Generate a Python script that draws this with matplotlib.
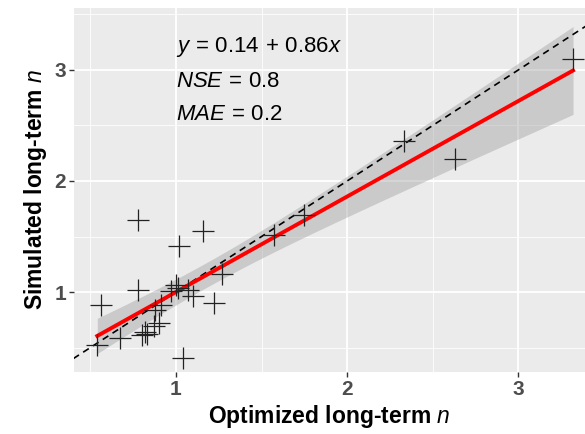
import numpy as np
import matplotlib
matplotlib.use("Agg")
import matplotlib.pyplot as plt

# optimized (x) vs simulated (y) long-term n
opt_n = [3.32, 2.33, 2.63, 1.75, 1.57, 1.27, 1.16, 1.02, 0.78, 0.78,
         0.56, 0.54, 0.67, 0.80, 0.82, 0.83, 0.87, 0.90, 0.88, 0.91,
         1.00, 1.01, 1.07, 1.10, 1.22, 1.04, 0.97]
sim_n = [3.10, 2.36, 2.20, 1.69, 1.51, 1.16, 1.55, 1.41, 1.65, 1.02,
         0.88, 0.52, 0.59, 0.61, 0.64, 0.62, 0.69, 0.72, 0.84, 0.88,
         1.06, 1.04, 1.02, 0.96, 0.90, 0.41, 1.01]
fit_a, fit_b = 0.14, 0.86
nse, mae = 0.8, 0.2

plt.rcParams['font.family'] = ['Liberation Sans', 'DejaVu Sans']
plt.rcParams['mathtext.fontset'] = 'custom'
plt.rcParams['mathtext.rm'] = 'Liberation Sans'
plt.rcParams['mathtext.it'] = 'Liberation Sans:italic'
plt.rcParams['mathtext.bf'] = 'Liberation Sans:bold'

x = np.array(opt_n)
y = np.array(sim_n)

fig = plt.figure(figsize=(5.85, 4.34), dpi=100)
ax = fig.add_axes([0.1265, 0.143, 0.8735, 0.839])
ax.set_facecolor('#EBEBEB')
for s in ax.spines.values():
    s.set_visible(False)

ax.set_xlim(0.404, 3.39)
ax.set_ylim(0.28, 3.56)
ax.set_xticks([1, 2, 3])
ax.set_yticks([1, 2, 3])
ax.set_xticks([0.5, 1.5, 2.5], minor=True)
ax.set_yticks([0.5, 1.5, 2.5, 3.5], minor=True)
ax.grid(which='major', color='white', lw=1.3)
ax.grid(which='minor', color='white', lw=0.6)
ax.set_axisbelow(True)
ax.tick_params(which='major', length=3.5, width=1, color='#333333',
               labelsize=15, labelcolor='#4D4D4D', pad=2)
ax.tick_params(which='minor', length=0)
for lab in ax.get_xticklabels() + ax.get_yticklabels():
    lab.set_fontweight('bold')

# 1:1 line
ax.plot([0, 4], [0, 4], ls=(0, (4, 3)), color='black', lw=1.2, zorder=3)

# regression line and confidence band
n = len(x)
xs = np.linspace(x.min(), x.max(), 100)
ys = fit_a + fit_b * xs
resid = y - (fit_a + fit_b * x)
s = np.sqrt(np.sum(resid ** 2) / (n - 2))
sxx = np.sum((x - x.mean()) ** 2)
se = s * np.sqrt(1 / n + (xs - x.mean()) ** 2 / sxx)
ax.fill_between(xs, ys - 2.06 * se, ys + 2.06 * se, color='#999999',
                alpha=0.4, lw=0, zorder=2)
ax.plot(xs, ys, color='red', lw=2.8, zorder=4)

ax.plot(x, y, ls='none', marker='+', ms=16, mew=0.9, color='#222222',
        zorder=5)

ax.text(1.0, 3.21, r'$y\,=\,%.2f\,+\,%.2fx$' % (fit_a, fit_b), fontsize=16,
        va='center', ha='left')
ax.text(1.0, 2.90, r'$NSE\,=\,%.1f$' % nse, fontsize=16, va='center',
        ha='left')
ax.text(1.0, 2.60, r'$MAE\,=\,%.1f$' % mae, fontsize=16, va='center',
        ha='left')

ax.set_xlabel(r'Optimized long-term $\mathit{n}$', fontsize=16.5,
              fontweight='bold', labelpad=3)
ax.set_ylabel(r'Simulated long-term $\mathit{n}$', fontsize=16.5,
              fontweight='bold', labelpad=4)

fig.savefig('out.png', dpi=100)
